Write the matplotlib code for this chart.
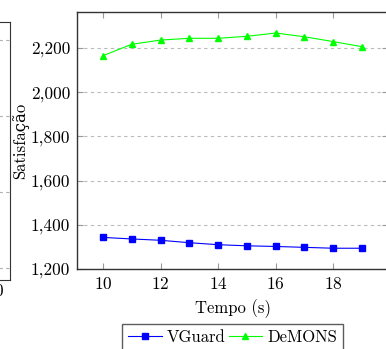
import numpy as np
import matplotlib.pyplot as plt
from matplotlib.ticker import FuncFormatter
plt.switch_backend('agg')

plt.rcParams['font.family'] = ['cmr10', 'DejaVu Serif']
plt.rcParams['axes.formatter.use_mathtext'] = True
plt.rcParams['font.size'] = 12

tempo = [10, 11, 12, 13, 14, 15, 16, 17, 18, 19]
vguard = [1343, 1336, 1330, 1319, 1310, 1305, 1302, 1298, 1294, 1294]
demons = [2165, 2217, 2236, 2244, 2244, 2253, 2268, 2251, 2229, 2206]

x_ticks = [10, 12, 14, 16, 18]
y_ticks = [1200, 1400, 1600, 1800, 2000, 2200]

fig = plt.figure(figsize=(3.86, 3.49), dpi=100)

# neighbouring subplot, mostly cut off at the left edge
ax0 = fig.add_axes([-0.774, 0.198, 0.8, 0.739])
ax0.set_xlim(0, 21)
ax0.set_ylim(1168, 1847)
ax0.set_xticks([20])
ax0.set_yticks([1200, 1400, 1600, 1800])
ax0.yaxis.grid(True, linestyle=(0, (3, 3)), color='#b0b0b0', linewidth=0.8)
ax0.tick_params(direction='in', length=0, labelleft=False, pad=2, labelsize=12.5)
for s in ax0.spines.values():
    s.set_color('#333333')

ax = fig.add_axes([0.1995, 0.2292, 0.8057, 0.7364])
ax.plot(tempo, vguard, color='blue', marker='s', markersize=4.5, linewidth=0.8, label='VGuard')
ax.plot(tempo, demons, color='#00ff00', marker='^', markersize=4.5, linewidth=0.8, label='DeMONS')

ax.set_xlim(9.1, 19.9)
ax.set_ylim(1200, 2363)
ax.set_xticks(x_ticks)
ax.set_yticks(y_ticks)
ax.yaxis.set_major_formatter(FuncFormatter(lambda v, p: f"{v:,.0f}"))
ax.yaxis.grid(True, linestyle=(0, (3, 3)), color='#bbbbbb', linewidth=0.8)
ax.tick_params(direction='in', top=True, right=True, length=4, color='#999999', pad=5,
               labelsize=12.5)
for s in ax.spines.values():
    s.set_color('#333333')
    s.set_linewidth(1.0)

ax.set_xlabel('Tempo (s)', labelpad=5)
ax.set_ylabel('Satisfação', labelpad=1)

ax.legend(loc='upper center', bbox_to_anchor=(0.5, -0.213), ncol=2, frameon=True,
          fancybox=False, edgecolor='#333333', handlelength=2.0, handletextpad=0.3,
          columnspacing=0.2, borderpad=0.35, borderaxespad=0)

fig.savefig('out.png', dpi=100)
plt.close()
